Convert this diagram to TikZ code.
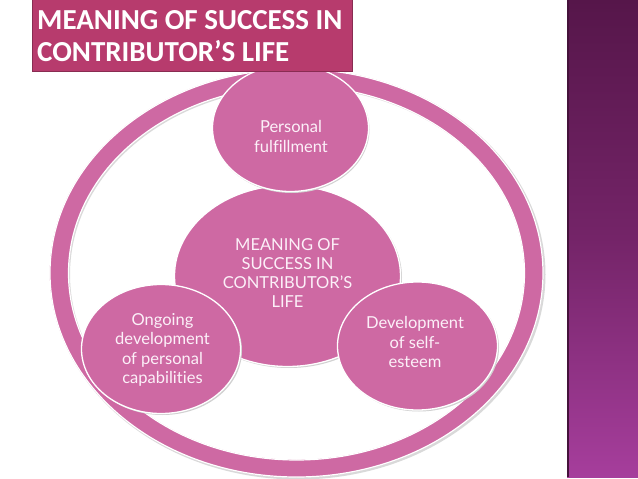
\documentclass[tikz,border=0pt]{standalone}
\usepackage{fontspec}
\setmainfont{Carlito}
\newfontfamily\bodyfont[Ligatures=NoCommon]{Lato}
\usetikzlibrary{shapes.geometric}
\definecolor{pinkc}{RGB}{206,105,163}
\definecolor{titlec}{RGB}{183,59,109}
\definecolor{stripTop}{RGB}{86,22,74}
\definecolor{stripMid}{RGB}{116,36,104}
\definecolor{stripBot}{RGB}{166,62,156}
\definecolor{txtc}{RGB}{252,240,248}
\tikzset{
  bubble/.style={ellipse, fill=pinkc, draw=white, line width=1.3pt, inner sep=0pt},
  bubshadow/.style={ellipse, fill=black!18, inner sep=0pt},
  bubtext/.style={text=txtc, align=center, font=\bodyfont\fontsize{16.5}{19.3}\selectfont, inner sep=0pt},
  titletext/.style={text=white, font=\fontsize{29}{32}\bfseries\selectfont, inner sep=0pt, anchor=base west}
}
\begin{document}
\begin{tikzpicture}[x=1pt,y=-1pt]
\useasboundingbox (0,0) rectangle (638,479);
\fill[white] (0,0) rectangle (638,479);
% right strip
\shade[top color=stripTop, bottom color=stripBot, middle color=stripMid] (567,0) rectangle (638,477);
\draw[stripTop!80!black, line width=1.5pt] (568,0) -- (568,477);
% ring
\fill[black!15, even odd rule] (298,274.5) ellipse [x radius=247.5, y radius=205]
      (298,274.5) ellipse [x radius=228, y radius=187];
\draw[pinkc, fill=pinkc, even odd rule] (296.5,273) ellipse [x radius=246.5, y radius=204]
      (296.5,273) ellipse [x radius=228, y radius=187];
\draw[white, line width=1.2pt] (296.5,273) ellipse [x radius=246.5, y radius=204];
\draw[white, line width=1.2pt] (296.5,273) ellipse [x radius=228, y radius=187];
% center
\node[bubshadow, minimum width=226pt, minimum height=181pt] (cs) at (289,277.5) {};
\node[bubble, minimum width=226pt, minimum height=181pt] (c) at (287.5,276) {};
% top
\node[bubshadow, minimum width=156pt, minimum height=127pt] (ts) at (291.5,129.5) {};
\node[bubble, minimum width=156pt, minimum height=127pt] (t) at (290.5,128) {};
% left
\node[bubshadow, minimum width=159pt, minimum height=129pt] (ls) at (162.5,350.5) {};
\node[bubble, minimum width=159pt, minimum height=129pt] (l) at (161,349) {};
% right
\node[bubshadow, minimum width=160pt, minimum height=128pt] (rs) at (419,347.5) {};
\node[bubble, minimum width=160pt, minimum height=128pt] (r) at (417.5,346) {};
% texts
\node[bubtext] (ct) at (287.5,273) {MEANING OF\\SUCCESS IN\\CONTRIBUTOR’S\\LIFE};
\node[bubtext] (tt) at (291,136.5) {Personal\\fulfillment};
\node[bubtext] (lt) at (162.5,350) {Ongoing\\development\\of personal\\capabilities};
\node[bubtext] (rt) at (415,342) {Development\\of self-\\esteem};
% title
\draw[fill=titlec, draw=titlec!75!black, line width=0.8pt] (32,-2) rectangle (352,71);
\node[titletext] (ti1) at (37,29) {MEANING OF SUCCESS IN};
\node[titletext] (ti2) at (37,61) {CONTRIBUTOR’S LIFE};
\end{tikzpicture}
\end{document}
